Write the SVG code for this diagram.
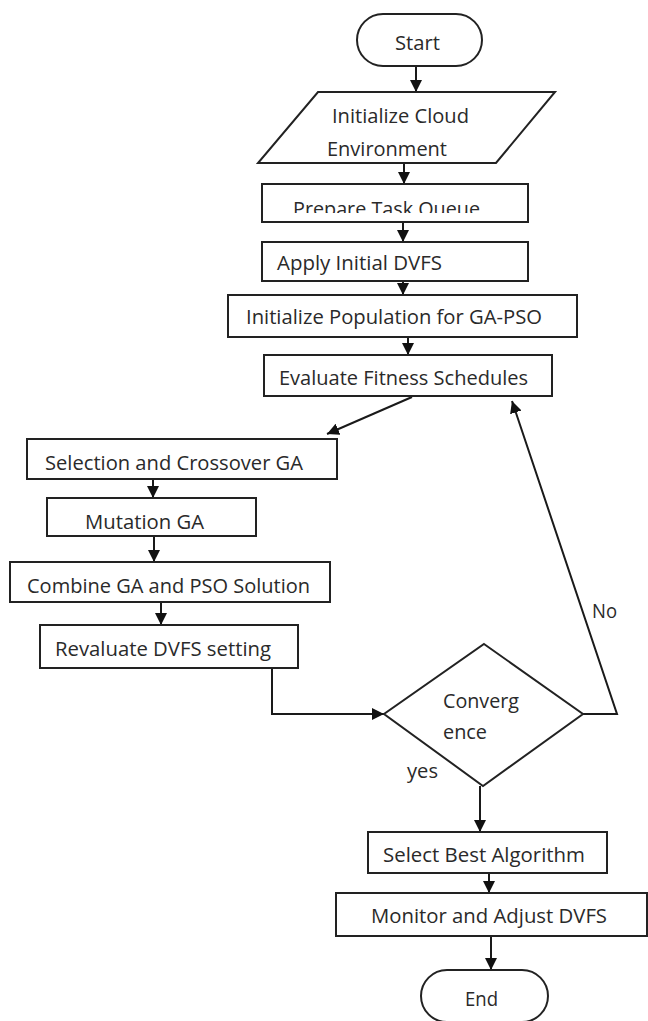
<svg xmlns="http://www.w3.org/2000/svg" width="648" height="1021" viewBox="0 0 648 1021">
<style>
.box{fill:#fff;stroke:#222;stroke-width:2}
.t{font-family:"Open Sans","Liberation Sans",sans-serif;font-size:20px;fill:#2a2a2a;lengthAdjust:spacingAndGlyphs}
.c{fill:none;stroke:#1a1a1a;stroke-width:2;marker-end:url(#ah)}
.n{fill:none;stroke:#1a1a1a;stroke-width:2}
</style>
<defs>
<marker id="ah" markerUnits="userSpaceOnUse" markerWidth="12" markerHeight="12" viewBox="0 0 12 12" refX="12" refY="6" orient="auto">
<path d="M0,0 L12,6 L0,12 Z" fill="#111"/>
</marker>
<clipPath id="clipPrep"><rect x="262" y="184" width="266" height="29"/></clipPath>
</defs>
<g id="connectors">
<path class="c" d="M416,66 V92"/>
<path class="c" d="M404,163 V184"/>
<path class="c" d="M403,222 V242"/>
<path class="c" d="M403,281 V295"/>
<path class="c" d="M408,337 V355"/>
<path class="c" d="M412,397 L327,434"/>
<path class="c" d="M153,479 V498"/>
<path class="c" d="M154,536 V562"/>
<path class="c" d="M161,602 V625"/>
<path class="c" d="M163,668 H272 V714 H384"/>
<path class="c" d="M583,714 H617 L512,401"/>
<path class="c" d="M480,786 V832"/>
<path class="c" d="M489,873 V893"/>
<path class="c" d="M491,936 V970"/>
</g>
<g id="start">
<rect class="box" x="357" y="14" width="125" height="52" rx="26"/>
<text class="t" x="395" y="50" textLength="45" lengthAdjust="spacingAndGlyphs">Start</text>
</g>
<g id="init-cloud">
<polygon class="box" points="318,92 555,92 496,163 258,163"/>
<text class="t" x="332" y="123" textLength="137" lengthAdjust="spacingAndGlyphs">Initialize Cloud</text>
<text class="t" x="327" y="156" textLength="120" lengthAdjust="spacingAndGlyphs">Environment</text>
</g>
<g id="prepare">
<rect class="box" x="262" y="184" width="266" height="38"/>
<text class="t" x="293" y="216" textLength="187" lengthAdjust="spacingAndGlyphs" clip-path="url(#clipPrep)">Prepare Task Queue</text>
</g>
<g id="apply-dvfs">
<rect class="box" x="262" y="242" width="266" height="39"/>
<text class="t" x="277" y="270" textLength="165" lengthAdjust="spacingAndGlyphs">Apply Initial DVFS</text>
</g>
<g id="init-pop">
<rect class="box" x="228" y="295" width="349" height="42"/>
<text class="t" x="246" y="324" textLength="296" lengthAdjust="spacingAndGlyphs">Initialize Population for GA-PSO</text>
</g>
<g id="evaluate">
<rect class="box" x="264" y="355" width="288" height="41"/>
<text class="t" x="279" y="385" textLength="249" lengthAdjust="spacingAndGlyphs">Evaluate Fitness Schedules</text>
</g>
<g id="selection">
<rect class="box" x="27" y="439" width="310" height="40"/>
<text class="t" x="45" y="470" textLength="258" lengthAdjust="spacingAndGlyphs">Selection and Crossover GA</text>
</g>
<g id="mutation">
<rect class="box" x="47" y="498" width="209" height="38"/>
<text class="t" x="85" y="529" textLength="119" lengthAdjust="spacingAndGlyphs">Mutation GA</text>
</g>
<g id="combine">
<rect class="box" x="10" y="562" width="320" height="40"/>
<text class="t" x="27" y="593" textLength="283" lengthAdjust="spacingAndGlyphs">Combine GA and PSO Solution</text>
</g>
<g id="revaluate">
<rect class="box" x="40" y="625" width="258" height="43"/>
<text class="t" x="55" y="656" textLength="216" lengthAdjust="spacingAndGlyphs">Revaluate DVFS setting</text>
</g>
<g id="convergence">
<polygon class="box" points="484,644 583,714 483,786 384,714"/>
<text class="t" x="443" y="708" textLength="76" lengthAdjust="spacingAndGlyphs">Converg</text>
<text class="t" x="443" y="739" textLength="44" lengthAdjust="spacingAndGlyphs">ence</text>
</g>
<g id="labels">
<text class="t" x="407" y="778" textLength="31" lengthAdjust="spacingAndGlyphs">yes</text>
<text class="t" x="592" y="618" textLength="25" lengthAdjust="spacingAndGlyphs">No</text>
</g>
<g id="select-best">
<rect class="box" x="368" y="832" width="239" height="41"/>
<text class="t" x="383" y="862" textLength="202" lengthAdjust="spacingAndGlyphs">Select Best Algorithm</text>
</g>
<g id="monitor">
<rect class="box" x="336" y="893" width="311" height="43"/>
<text class="t" x="371" y="923" textLength="236" lengthAdjust="spacingAndGlyphs">Monitor and Adjust DVFS</text>
</g>
<g id="end">
<rect class="box" x="421" y="970" width="127" height="52" rx="26"/>
<text class="t" x="465" y="1006" textLength="33" lengthAdjust="spacingAndGlyphs">End</text>
</g>
</svg>
